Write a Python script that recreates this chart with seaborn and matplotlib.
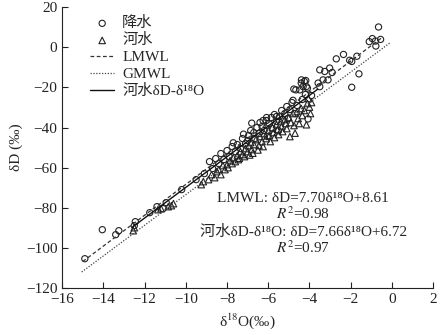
import numpy as np
import pandas as pd
import matplotlib
matplotlib.use("Agg")
import matplotlib.pyplot as plt
import seaborn as sns

# ---- data ----
precip_x = [-14.9, -14.05, -13.4, -13.25, -12.5, -12.45, -11.75, -11.4, -11.1, -10.95,
            -10.2, -9.5, -9.1, -8.85, -8.7, -8.55, -8.4, -8.3, -8.15, -8.0,
            -7.9, -7.75, -7.7, -7.6, -7.5, -7.35, -7.25, -7.2, -7.1, -7.0,
            -6.95, -6.85, -6.8, -6.7, -6.65, -6.55, -6.45, -6.4, -6.3, -6.25,
            -6.2, -6.1, -6.08, -6.05, -5.95, -5.85, -5.8, -5.7, -5.6, -5.6,
            -5.5, -5.45, -5.35, -5.3, -5.2, -5.1, -5.05, -4.95, -4.85, -4.8,
            -4.76, -4.7, -4.66, -4.6, -4.47, -4.4, -4.39, -4.35, -4.31, -4.25,
            -4.2, -4.18, -4.15, -4.1, -4.07, -3.9, -3.58, -3.5, -3.5, -3.34,
            -3.26, -3.1, -3.02, -2.9, -2.7, -2.35, -2.05, -1.95, -1.95, -1.7,
            -1.6, -1.1, -0.95, -0.8, -0.78, -0.65, -0.55]
precip_y = [-105.5, -91, -93.5, -91.5, -89, -87, -82.5, -79.5, -80.5, -77.5,
            -71, -66, -63, -57, -60.5, -55.5, -58, -53, -56, -51.5,
            -54.5, -49.5, -47.6, -52, -48.5, -50.5, -45.5, -43.3, -48, -46.5,
            -44, -41.5, -37.8, -42.5, -45.5, -40, -43, -37.5, -39.5, -36.5,
            -41.5, -36.5, -35, -44.5, -38, -35, -40.5, -33.5, -37, -34.5,
            -41.6, -34.5, -31.5, -36, -33, -29.5, -35.5, -31, -27.5, -26.4,
            -20.8, -33, -21.2, -29, -21.2, -17.8, -16.2, -26, -19.6, -17,
            -23.5, -16.5, -19.5, -20.3, -35.7, -24, -17.8, -11.2, -19.6, -16.2,
            -12, -16.2, -10.3, -12.5, -5.7, -3.5, -6.4, -7, -19.9, -4.4,
            -13.2, 2.9, 4.4, 3.2, 0.7, 10.2, 4]

river_x = [-12.55, -12.5, -11.35, -11.2, -10.85, -10.7, -10.6, -9.25, -9.15, -8.9,
           -8.75, -8.6, -8.5, -8.4, -8.3, -8.2, -8.1, -8.0, -7.95, -7.85,
           -7.75, -7.7, -7.6, -7.5, -7.45, -7.4, -7.35, -7.25, -7.15, -7.1,
           -7.0, -6.95, -6.9, -6.85, -6.8, -6.75, -6.7, -6.6, -6.5, -6.45,
           -6.4, -6.3, -6.25, -6.2, -6.1, -6.0, -5.95, -5.9, -5.8, -5.75,
           -5.7, -5.6, -5.55, -5.5, -5.4, -5.35, -5.3, -5.2, -5.15, -5.1,
           -5.0, -4.95, -4.9, -4.8, -4.75, -4.7, -4.6, -4.55, -4.5, -4.4,
           -4.35, -4.25, -4.15, -4.1, -4.05, -4.0, -3.95, -3.9]
river_y = [-91.5, -90, -81, -80.5, -79.5, -79, -78, -68.5, -67, -66,
           -63.5, -65, -62, -61, -63.5, -59, -61, -58.5, -60, -56.5,
           -58, -55, -57, -54, -56, -55.3, -52, -53.5, -54.5, -50.5,
           -52, -49, -53.7, -47.5, -51, -52.8, -48.5, -46, -51.2, -49,
           -44.5, -47, -49.5, -43, -45.5, -41.5, -44, -47, -40, -42.5,
           -45, -38.5, -41, -43.5, -37, -39.5, -42, -36, -38, -40.5,
           -35, -44.5, -37.5, -33, -39, -42.8, -32, -35.5, -38, -30.5,
           -34, -31.5, -38.6, -28, -25.5, -29.8, -33, -27.5]

# fitted / reference lines: slope, intercept, x-range
lmwl_fit = [7.70, 8.61]
lmwl_range = [-15.0, -0.5]
gmwl_fit = [7.65, 3.0]
gmwl_range = [-15.05, -0.1]
river_fit = [7.66, 6.72]
river_range = [-12.6, -3.6]

x_ticks = [-16, -14, -12, -10, -8, -6, -4, -2, 0, 2]
y_ticks = [-120, -100, -80, -60, -40, -20, 0, 20]

legend_labels = ["降水", "河水", "LMWL", "GMWL", "河水δD-δ¹⁸O"]

# ---- style ----
sns.set_style("ticks")
plt.rcParams['font.family'] = ['Liberation Serif', 'Noto Sans CJK SC', 'DejaVu Serif']
plt.rcParams['mathtext.fontset'] = 'stix'
plt.rcParams['axes.unicode_minus'] = True
plt.rcParams['font.size'] = 11

fig = plt.figure(figsize=(4.47, 3.35), dpi=100)
ax = fig.add_axes([0.139, 0.141, 0.830, 0.837])

def line_df(fit, rng):
    xs = np.array(rng)
    return pd.DataFrame({"x": xs, "y": fit[0] * xs + fit[1]})

df_p = pd.DataFrame({"x": precip_x, "y": precip_y})
df_r = pd.DataFrame({"x": river_x, "y": river_y})

sns.scatterplot(data=df_p, x="x", y="y", marker="o", s=20, facecolor="none",
                edgecolor="#222222", linewidth=0.8, label=legend_labels[0], ax=ax, zorder=3)
sns.scatterplot(data=df_r, x="x", y="y", marker="^", s=22, facecolor="none",
                edgecolor="#222222", linewidth=0.8, label=legend_labels[1], ax=ax, zorder=3)
sns.lineplot(data=line_df(lmwl_fit, lmwl_range), x="x", y="y", color="#333333",
             linewidth=0.9, linestyle=(0, (3, 2)), label=legend_labels[2], ax=ax, zorder=4)
sns.lineplot(data=line_df(gmwl_fit, gmwl_range), x="x", y="y", color="#444444",
             linewidth=0.9, linestyle=(0, (1, 1.3)), label=legend_labels[3], ax=ax, zorder=4)
sns.lineplot(data=line_df(river_fit, river_range), x="x", y="y", color="#111111",
             linewidth=1.0, linestyle="-", label=legend_labels[4], ax=ax, zorder=4)

ax.set_xlim(-16, 2)
ax.set_ylim(-120, 20)
ax.set_xticks(x_ticks)
ax.set_yticks(y_ticks)
ax.tick_params(direction="in", length=4, width=0.8, labelsize=11, colors="#222222")
for sp in ["top", "right"]:
    ax.spines[sp].set_visible(False)
for sp in ["left", "bottom"]:
    ax.spines[sp].set_linewidth(0.8)
    ax.spines[sp].set_color("#222222")

ax.set_xlabel("δ$^{18}$O(‰)", fontsize=11, labelpad=4)
ax.set_ylabel("δD (‰)", fontsize=11, labelpad=2)

h, l = ax.get_legend_handles_labels()
hm = dict(zip(l, h))
ax.legend([hm[k] for k in legend_labels], legend_labels, loc="upper left",
          bbox_to_anchor=(0.075, 0.968), frameon=False, borderpad=0,
          borderaxespad=0, handlelength=1.6, handletextpad=0.5,
          labelspacing=0.2, fontsize=11)

tx = -4.3
ax.text(tx, -75.2, "LMWL: δD=7.70δ¹⁸O+8.61", ha="center", va="center", fontsize=11)
ax.text(tx, -82.9, "$R^2$=0.98", ha="center", va="center", fontsize=11)
ax.text(tx, -92.2, "河水δD-δ¹⁸O: δD=7.66δ¹⁸O+6.72", ha="center", va="center", fontsize=11)
ax.text(tx, -99.9, "$R^2$=0.97", ha="center", va="center", fontsize=11)

fig.savefig("out.png", dpi=100)
